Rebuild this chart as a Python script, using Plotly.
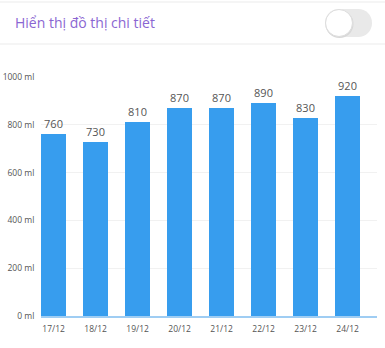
import plotly.graph_objects as go

dates = ["17/12", "18/12", "19/12", "20/12", "21/12", "22/12", "23/12", "24/12"]
values = [760, 730, 810, 870, 870, 890, 830, 920]
y_ticks = [0, 200, 400, 600, 800, 1000]
y_tick_labels = [f"{v} ml" for v in y_ticks]
title_text = "Hiển thị đồ thị chi tiết"

W, H = 385, 348
L, R, T, B = 41, 8, 77, 32
pw, ph = W - L - R, H - T - B

def px(x):
    return (x - L) / pw

def py(y):
    return (H - B - y) / ph

bar_w = 0.6
xs = list(range(len(dates)))

fig = go.Figure()
fig.add_trace(go.Bar(
    x=xs, y=values, width=bar_w, offset=0,
    marker=dict(color="#379DEE", line=dict(width=0)),
    text=[str(v) for v in values], textposition="outside",
    textfont=dict(size=11, color="#555555", family="Open Sans"),
    cliponaxis=False, hoverinfo="skip",
))

shapes = [
    dict(type="line", xref="paper", yref="paper", x0=px(0), x1=px(W), y0=py(2), y1=py(2),
         line=dict(color="#f2f2f2", width=1.5)),
    dict(type="line", xref="paper", yref="paper", x0=px(0), x1=px(W), y0=py(44), y1=py(44),
         line=dict(color="#f2f2f2", width=1.5)),
    # toggle pill
    dict(type="path", xref="paper", yref="paper",
         path=(f"M {px(339)},{py(9)} L {px(358)},{py(9)} "
               f"C {px(366)},{py(9)} {px(372)},{py(15)} {px(372)},{py(23)} "
               f"C {px(372)},{py(31)} {px(366)},{py(37)} {px(358)},{py(37)} "
               f"L {px(339)},{py(37)} "
               f"C {px(331)},{py(37)} {px(325)},{py(31)} {px(325)},{py(23)} "
               f"C {px(325)},{py(15)} {px(331)},{py(9)} {px(339)},{py(9)} Z"),
         fillcolor="#e9e9e9", line=dict(width=0)),
    dict(type="circle", xref="paper", yref="paper",
         x0=px(325.5), x1=px(353.5), y0=py(38), y1=py(10),
         fillcolor="#d8d8d8", line=dict(width=0)),
    dict(type="circle", xref="paper", yref="paper",
         x0=px(325.5), x1=px(352.5), y0=py(36.5), y1=py(9.5),
         fillcolor="#ffffff", line=dict(color="#dddddd", width=1)),
]

fig.update_layout(
    width=W, height=H,
    margin=dict(l=L, r=R, t=T, b=B, pad=0, autoexpand=False),
    paper_bgcolor="white", plot_bgcolor="white",
    showlegend=False,
    bargap=0,
    font=dict(family="Open Sans", color="#555555"),
    xaxis=dict(
        range=[0, len(dates)], tickmode="array",
        tickvals=[i + bar_w / 2 for i in xs], ticktext=dates,
        tickfont=dict(size=8.5, color="#555555"),
        showgrid=False, zeroline=False,
        showline=True, linecolor="#9fcdf3", linewidth=1.5,
        ticks="outside", ticklen=4, tickcolor="rgba(0,0,0,0)",
        fixedrange=True, automargin=False,
    ),
    yaxis=dict(
        range=[0, 1000], tickmode="array", tickvals=y_ticks, ticktext=y_tick_labels,
        tickfont=dict(size=8.5, color="#555555"),
        showgrid=True, gridcolor="#f1f1f1", gridwidth=1,
        zeroline=False, showline=False, ticks="outside", ticklen=4, tickcolor="rgba(0,0,0,0)",
        fixedrange=True, automargin=False,
    ),
    shapes=shapes,
    annotations=[dict(
        text=title_text, xref="paper", yref="paper", x=px(13), y=py(22),
        xanchor="left", yanchor="middle", showarrow=False,
        font=dict(size=14, color="#8a66d2", family="Open Sans"),
    )],
)

fig.write_html("out.html")
